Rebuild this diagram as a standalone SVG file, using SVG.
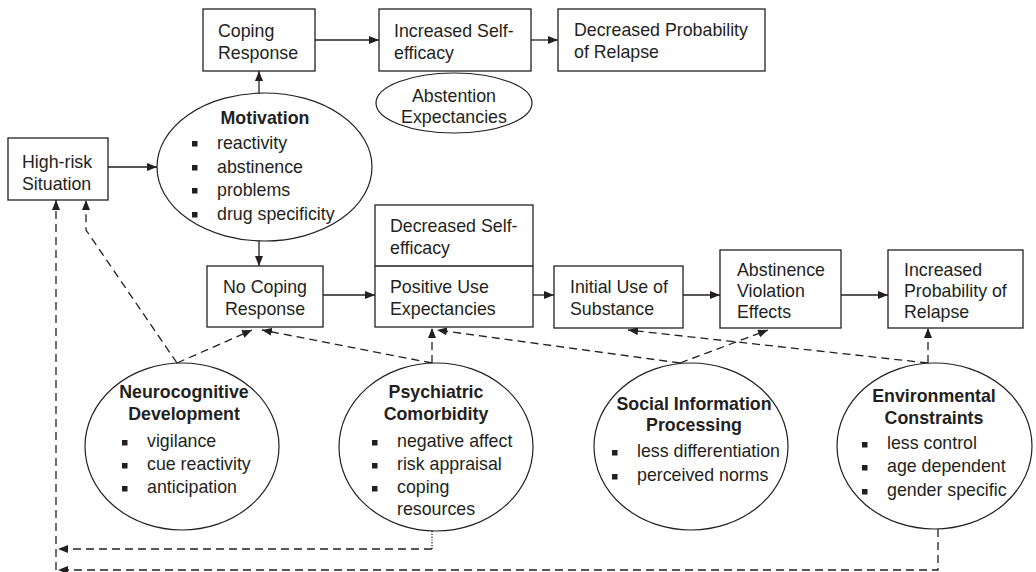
<svg xmlns="http://www.w3.org/2000/svg" width="1036" height="572" viewBox="0 0 1036 572">
<defs>
<style>
.box{fill:#fff;stroke:#231f20;stroke-width:1.3}
.ell{fill:#fff;stroke:#231f20;stroke-width:1.2}
.t{font-family:"Liberation Sans",Arial,sans-serif;font-size:17.8px;fill:#231f20}
.b{font-weight:bold}
.c{text-anchor:middle}
.bul{fill:#231f20}
.solid{fill:none;stroke:#231f20;stroke-width:1.3}
.dash{fill:none;stroke:#231f20;stroke-width:1.3;stroke-dasharray:8 5}
.dot{fill:none;stroke:#231f20;stroke-width:1.3;stroke-dasharray:1.2 1.6}
</style>
<marker id="ah" viewBox="0 0 10 8" refX="10" refY="4" markerWidth="10" markerHeight="8" markerUnits="userSpaceOnUse" orient="auto">
<path d="M0,0 L10,4 L0,8 Z" fill="#231f20"/>
</marker>
</defs>
<rect width="1036" height="572" fill="#fff"/>

<g id="connectors">
<path class="solid" d="M108,167 H157" marker-end="url(#ah)"/>
<path class="solid" d="M259,93 V71" marker-end="url(#ah)"/>
<path class="solid" d="M315,40 H379" marker-end="url(#ah)"/>
<path class="solid" d="M531,40 H558" marker-end="url(#ah)"/>
<path class="solid" d="M259,241 V266" marker-end="url(#ah)"/>
<path class="solid" d="M323,295 H375" marker-end="url(#ah)"/>
<path class="solid" d="M533,295 H554" marker-end="url(#ah)"/>
<path class="solid" d="M683,295 H720" marker-end="url(#ah)"/>
<path class="solid" d="M841,295 H888" marker-end="url(#ah)"/>
<path class="dash" d="M177,363 L86,230 V200" marker-end="url(#ah)"/>
<path class="dash" d="M177,363 L252,330" marker-end="url(#ah)"/>
<path class="dash" d="M432,363 L262,330" marker-end="url(#ah)"/>
<path class="dash" d="M432,363 V328" marker-end="url(#ah)"/>
<path class="dash" d="M680,363 L437,330" marker-end="url(#ah)"/>
<path class="dash" d="M680,363 L768,330" marker-end="url(#ah)"/>
<path class="dash" d="M928,363 L628,330" marker-end="url(#ah)"/>
<path class="dash" d="M928,363 V328" marker-end="url(#ah)"/>
<path class="dot" d="M432,531 V549"/>
<path class="dash" d="M432,549 H58" marker-end="url(#ah)"/>
<path class="dash" d="M938,529 V570 H58" marker-end="url(#ah)"/>
<path class="dash" d="M56,570 V200" marker-end="url(#ah)"/>
</g>

<g id="coping-response">
<rect class="box" x="203" y="9" width="112" height="62"/>
<text class="t" x="218" y="37">Coping</text>
<text class="t" x="218" y="59">Response</text>
</g>

<g id="increased-self-efficacy">
<rect class="box" x="379" y="9" width="152" height="62"/>
<text class="t" x="394" y="37">Increased Self-</text>
<text class="t" x="394" y="59">efficacy</text>
</g>

<g id="decreased-probability">
<rect class="box" x="558" y="9" width="207" height="62"/>
<text class="t" x="574" y="36">Decreased Probability</text>
<text class="t" x="574" y="58">of Relapse</text>
</g>

<g id="abstention-expectancies">
<ellipse class="ell" cx="454" cy="103" rx="78" ry="30"/>
<text class="t c" x="454" y="102">Abstention</text>
<text class="t c" x="454" y="123">Expectancies</text>
</g>

<g id="high-risk-situation">
<rect class="box" x="8" y="138" width="100" height="62"/>
<text class="t" x="22" y="168">High-risk</text>
<text class="t" x="22" y="190">Situation</text>
</g>

<g id="motivation">
<ellipse class="ell" cx="264.5" cy="167" rx="107.5" ry="74"/>
<text class="t b c" x="265" y="124">Motivation</text>
<rect class="bul" x="192" y="141" width="5.5" height="5.5"/>
<text class="t" x="217" y="149">reactivity</text>
<rect class="bul" x="192" y="165" width="5.5" height="5.5"/>
<text class="t" x="217" y="173">abstinence</text>
<rect class="bul" x="192" y="188" width="5.5" height="5.5"/>
<text class="t" x="217" y="196">problems</text>
<rect class="bul" x="192" y="212" width="5.5" height="5.5"/>
<text class="t" x="217" y="220">drug specificity</text>
</g>

<g id="no-coping-response">
<rect class="box" x="207" y="266" width="116" height="61"/>
<text class="t c" x="265" y="293">No Coping</text>
<text class="t c" x="265" y="315">Response</text>
</g>

<g id="decreased-self-efficacy-positive-use">
<rect class="box" x="375" y="205" width="158" height="122"/>
<line x1="375" y1="266" x2="533" y2="266" stroke="#231f20" stroke-width="1.5"/>
<text class="t" x="390" y="232">Decreased Self-</text>
<text class="t" x="390" y="254">efficacy</text>
<text class="t" x="390" y="293">Positive Use</text>
<text class="t" x="390" y="315">Expectancies</text>
</g>

<g id="initial-use">
<rect class="box" x="554" y="266" width="129" height="62"/>
<text class="t" x="570" y="293">Initial Use of</text>
<text class="t" x="570" y="315">Substance</text>
</g>

<g id="abstinence-violation">
<rect class="box" x="720" y="250" width="121" height="78"/>
<text class="t" x="737" y="276">Abstinence</text>
<text class="t" x="737" y="297">Violation</text>
<text class="t" x="737" y="318">Effects</text>
</g>

<g id="increased-probability">
<rect class="box" x="888" y="250" width="135" height="78"/>
<text class="t" x="904" y="276">Increased</text>
<text class="t" x="904" y="297">Probability of</text>
<text class="t" x="904" y="318">Relapse</text>
</g>

<g id="neurocognitive-development">
<ellipse class="ell" cx="182" cy="446.5" rx="97" ry="83.5"/>
<text class="t b c" x="184" y="398">Neurocognitive</text>
<text class="t b c" x="184" y="420">Development</text>
<rect class="bul" x="122" y="440" width="5.5" height="5.5"/>
<text class="t" x="147" y="447">vigilance</text>
<rect class="bul" x="122" y="463" width="5.5" height="5.5"/>
<text class="t" x="147" y="470">cue reactivity</text>
<rect class="bul" x="122" y="486" width="5.5" height="5.5"/>
<text class="t" x="147" y="493">anticipation</text>
</g>

<g id="psychiatric-comorbidity">
<ellipse class="ell" cx="436" cy="447" rx="97" ry="84"/>
<text class="t b c" x="436" y="398">Psychiatric</text>
<text class="t b c" x="436" y="420">Comorbidity</text>
<rect class="bul" x="372" y="440" width="5.5" height="5.5"/>
<text class="t" x="397" y="447">negative affect</text>
<rect class="bul" x="372" y="463" width="5.5" height="5.5"/>
<text class="t" x="397" y="470">risk appraisal</text>
<rect class="bul" x="372" y="486" width="5.5" height="5.5"/>
<text class="t" x="397" y="493">coping</text>
<text class="t" x="397" y="515">resources</text>
</g>

<g id="social-information-processing">
<ellipse class="ell" cx="691" cy="446.5" rx="97" ry="83.5"/>
<text class="t b c" x="694" y="410">Social Information</text>
<text class="t b c" x="694" y="431">Processing</text>
<rect class="bul" x="612" y="450" width="5.5" height="5.5"/>
<text class="t" x="637" y="457">less differentiation</text>
<rect class="bul" x="612" y="474" width="5.5" height="5.5"/>
<text class="t" x="637" y="481">perceived norms</text>
</g>

<g id="environmental-constraints">
<ellipse class="ell" cx="934.5" cy="446" rx="97.5" ry="83"/>
<text class="t b c" x="934" y="402">Environmental</text>
<text class="t b c" x="934" y="424">Constraints</text>
<rect class="bul" x="862" y="442" width="5.5" height="5.5"/>
<text class="t" x="887" y="449">less control</text>
<rect class="bul" x="862" y="465" width="5.5" height="5.5"/>
<text class="t" x="887" y="472">age dependent</text>
<rect class="bul" x="862" y="489" width="5.5" height="5.5"/>
<text class="t" x="887" y="496">gender specific</text>
</g>
</svg>
